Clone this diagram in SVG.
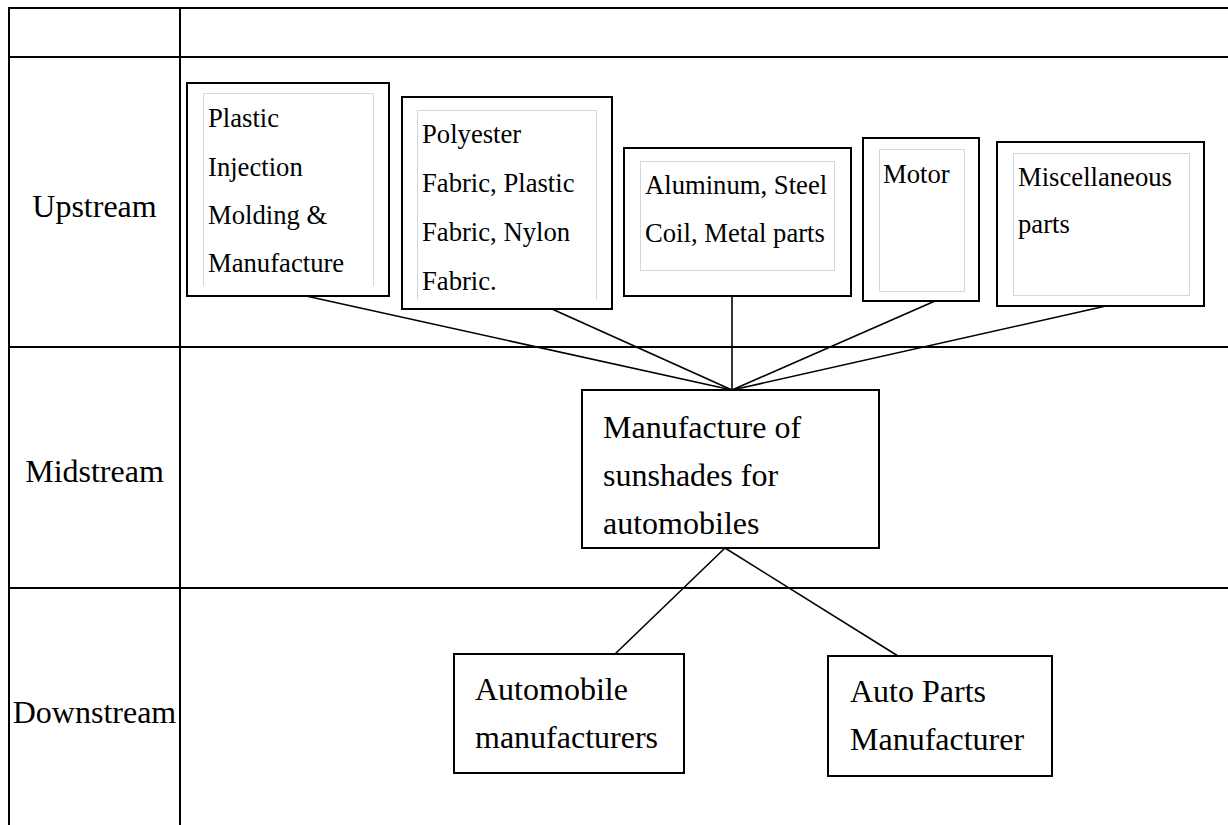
<svg xmlns="http://www.w3.org/2000/svg" width="1228" height="825" viewBox="0 0 1228 825">
<style>
.grid{stroke:#000;stroke-width:2;fill:none}
.box{fill:#fff;stroke:#000;stroke-width:2}
.inner{fill:none;stroke:#d6d6e2;stroke-width:1}
.conn{stroke:#000;stroke-width:1.6;fill:none}
.t{font-family:"Liberation Serif","Times New Roman",serif;fill:#000}
.up{font-size:26.67px}
.big{font-size:32px}
</style>
<rect width="1228" height="825" fill="#fff"/>
<g id="table">
<line class="grid" x1="8" y1="8" x2="1228" y2="8"/>
<line class="grid" x1="8" y1="57" x2="1228" y2="57"/>
<line class="grid" x1="8" y1="347" x2="1228" y2="347"/>
<line class="grid" x1="8" y1="588" x2="1228" y2="588"/>
<line class="grid" x1="9" y1="7" x2="9" y2="825"/>
<line class="grid" x1="180" y1="7" x2="180" y2="825"/>
<text class="t big" x="94.5" y="217" text-anchor="middle">Upstream</text>
<text class="t big" x="94.5" y="482" text-anchor="middle">Midstream</text>
<text class="t big" x="94.5" y="723" text-anchor="middle">Downstream</text>
</g>
<g id="connectors">
<line class="conn" x1="306" y1="296" x2="732" y2="390"/>
<line class="conn" x1="552" y1="309" x2="732" y2="390"/>
<line class="conn" x1="732" y1="296" x2="732" y2="390"/>
<line class="conn" x1="935" y1="301" x2="732" y2="390"/>
<line class="conn" x1="1106" y1="306" x2="732" y2="390"/>
<line class="conn" x1="725" y1="548" x2="615" y2="654"/>
<line class="conn" x1="725" y1="548" x2="898" y2="656"/>
</g>
<g id="plastic">
<rect class="box" x="187" y="83" width="202" height="213"/>
<path class="inner" d="M203.5,286 V93.5 H373.5 V286"/>
<text class="t up" x="208" y="127">Plastic</text>
<text class="t up" x="208" y="176">Injection</text>
<text class="t up" x="208" y="224">Molding &amp;</text>
<text class="t up" x="208" y="272">Manufacture</text>
</g>
<g id="polyester">
<rect class="box" x="402" y="97" width="210" height="212"/>
<path class="inner" d="M417.5,300 V110.5 H596.5 V300"/>
<text class="t up" x="422" y="143">Polyester</text>
<text class="t up" x="422" y="192">Fabric, Plastic</text>
<text class="t up" x="422" y="241">Fabric, Nylon</text>
<text class="t up" x="422" y="290">Fabric.</text>
</g>
<g id="aluminum">
<rect class="box" x="624" y="148" width="227" height="148"/>
<rect class="inner" x="640.5" y="161.5" width="194" height="109"/>
<text class="t up" x="645" y="194">Aluminum, Steel</text>
<text class="t up" x="645" y="242">Coil, Metal parts</text>
</g>
<g id="motor">
<rect class="box" x="863" y="138" width="116" height="163"/>
<rect class="inner" x="879.5" y="149.5" width="85" height="142"/>
<text class="t up" x="883" y="183">Motor</text>
</g>
<g id="misc">
<rect class="box" x="997" y="142" width="207" height="164"/>
<rect class="inner" x="1013.5" y="153.5" width="176" height="142"/>
<text class="t up" x="1018" y="186">Miscellaneous</text>
<text class="t up" x="1018" y="233">parts</text>
</g>
<g id="midstream">
<rect class="box" x="582" y="390" width="297" height="158"/>
<text class="t big" x="603" y="438">Manufacture of</text>
<text class="t big" x="603" y="486">sunshades for</text>
<text class="t big" x="603" y="534">automobiles</text>
</g>
<g id="automobile">
<rect class="box" x="454" y="654" width="230" height="119"/>
<text class="t big" x="475" y="700">Automobile</text>
<text class="t big" x="475" y="748">manufacturers</text>
</g>
<g id="autoparts">
<rect class="box" x="828" y="656" width="224" height="120"/>
<text class="t big" x="850" y="702">Auto Parts</text>
<text class="t big" x="850" y="750">Manufacturer</text>
</g>
</svg>
